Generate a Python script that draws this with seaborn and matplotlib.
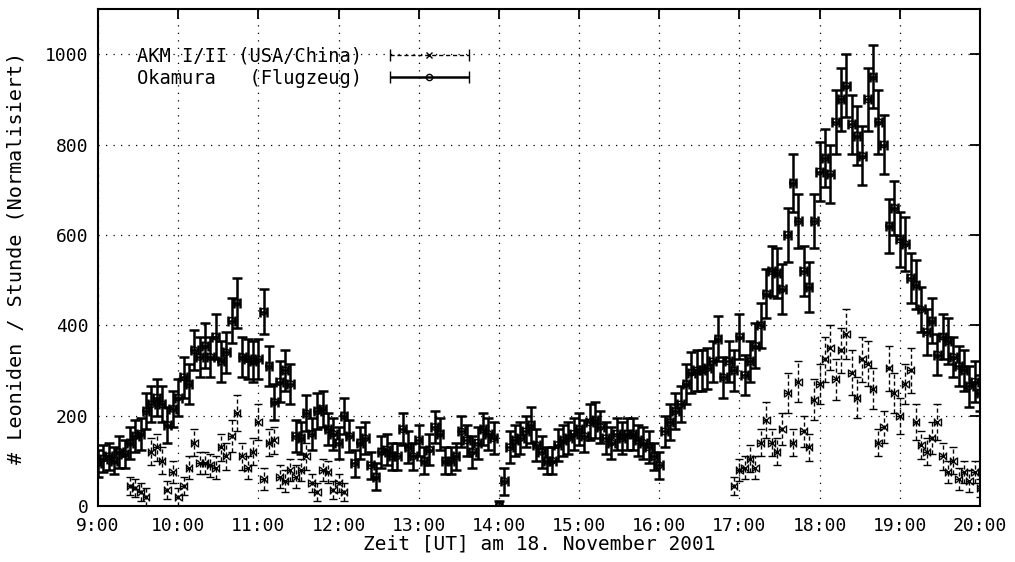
import numpy as np
import pandas as pd
import matplotlib
matplotlib.use("Agg")
import matplotlib.pyplot as plt
import seaborn as sns
from matplotlib.legend_handler import HandlerErrorbar
from matplotlib.container import ErrorbarContainer

# ---------------- data ----------------
# minutes after 09:00 UT, regular 4-minute sampling
okamura_start_min = 0
okamura_step_min = 4
okamura_rate = [
    95, 105, 110, 100, 120, 115, 140, 155, 160, 210, 225, 240, 225, 180, 215,   # 9h
    240, 285, 270, 345, 330, 355, 330, 375, 320, 340, 410, 450, 330, 325, 320,  # 10h
    325, 430, 310, 230, 275, 300, 270, 155, 150, 205, 160, 210, 215, 170, 160,  # 11h
    140, 200, 155, 95, 140, 150, 90, 65, 120, 125, 110, 110, 170, 130, 110,     # 12h
    145, 100, 125, 175, 160, 100, 100, 110, 165, 145, 120, 140, 170, 160, 150,  # 13h
    0, 55, 130, 145, 150, 165, 180, 135, 120, 100, 100, 135, 145, 150, 160,     # 14h
    170, 155, 185, 190, 175, 150, 140, 160, 150, 160, 160, 145, 140, 130, 110,  # 15h
    90, 165, 185, 210, 225, 270, 295, 300, 300, 305, 320, 370, 285, 320, 300,   # 16h
    375, 290, 320, 355, 400, 470, 520, 515, 480, 600, 715, 630, 520, 485, 630,  # 17h
    740, 770, 735, 850, 900, 930, 845, 820, 775, 900, 950, 850, 800, 620, 660,  # 18h
    590, 580, 505, 490, 435, 385, 410, 335, 375, 365, 330, 310, 300, 265, 275,  # 19h
    250,                                                                         # 20h
]
okamura_err = [
    30, 30, 30, 30, 35, 30, 35, 35, 35, 40, 40, 40, 40, 40, 40,
    40, 45, 45, 45, 45, 50, 45, 50, 45, 45, 50, 55, 45, 45, 45,
    45, 50, 45, 40, 45, 45, 45, 35, 35, 40, 35, 40, 40, 35, 35,
    35, 40, 35, 30, 35, 35, 30, 30, 35, 35, 30, 30, 35, 35, 30,
    35, 30, 35, 35, 35, 30, 30, 30, 35, 35, 35, 35, 35, 35, 35,
    10, 30, 35, 35, 35, 35, 40, 35, 35, 30, 30, 35, 35, 35, 35,
    35, 35, 40, 40, 35, 35, 35, 35, 35, 35, 35, 35, 35, 35, 30,
    30, 35, 40, 40, 40, 45, 45, 45, 45, 45, 45, 50, 45, 45, 45,
    50, 45, 45, 50, 50, 55, 55, 55, 55, 60, 65, 60, 55, 55, 60,
    65, 65, 65, 70, 70, 70, 65, 65, 65, 70, 70, 70, 65, 60, 60,
    60, 60, 55, 55, 50, 50, 50, 45, 50, 50, 45, 45, 45, 45, 45,
    40,
]

akm_step_min = 4
akm1_start_min = 24      # 09:24
akm1_rate = [45, 40, 30, 20, 120, 130, 100, 35, 75, 20,
             45, 85, 140, 95, 95, 90, 85, 130, 110, 155,
             205, 110, 85, 120, 185, 60, 140, 145, 65, 55,
             80, 65, 80, 110, 50, 30, 80, 75, 35, 50, 30]
akm1_err = [20, 20, 20, 20, 30, 30, 30, 20, 25, 20,
            20, 25, 30, 25, 25, 25, 25, 30, 30, 35,
            40, 30, 25, 30, 40, 25, 30, 30, 25, 25,
            25, 25, 25, 30, 20, 20, 25, 25, 20, 20, 20]
akm2_start_min = 476     # 16:56
akm2_rate = [45, 80, 85, 105, 85, 140, 190, 140, 120, 170,
             250, 140, 275, 165, 130, 235, 270, 325, 350, 280,
             345, 380, 295, 240, 325, 315, 260, 140, 175, 305,
             250, 200, 270, 300, 185, 135, 120, 150, 185, 110,
             75, 100, 60, 75, 55, 75, 40]
akm2_err = [20, 25, 25, 30, 25, 30, 40, 30, 30, 35,
            45, 30, 45, 35, 30, 45, 45, 50, 50, 45,
            50, 55, 50, 45, 50, 50, 45, 30, 35, 50,
            45, 40, 45, 50, 40, 30, 30, 35, 40, 30,
            25, 30, 25, 25, 25, 25, 20]

x_ticks = list(range(9, 21))
x_tick_labels = [f"{h}:00" for h in x_ticks]
y_ticks = [0, 200, 400, 600, 800, 1000]
half_width_min = 2.5

labels = ["AKM I/II (USA/China)", "Okamura   (Flugzeug)"]

# ---------------- frames ----------------
def frame(start, step, rate, err):
    minutes = start + step * np.arange(len(rate))
    return pd.DataFrame({"t": 9 + minutes / 60.0, "rate": rate, "err": err})

df_oka = frame(okamura_start_min, okamura_step_min, okamura_rate, okamura_err)
df_akm = pd.concat([frame(akm1_start_min, akm_step_min, akm1_rate, akm1_err),
                    frame(akm2_start_min, akm_step_min, akm2_rate, akm2_err)],
                   ignore_index=True)

# ---------------- plot ----------------
sns.set_style("white")
plt.rcParams["font.family"] = ["DejaVu Sans Mono", "DejaVu Sans"]
plt.rcParams["text.color"] = "black"
plt.rcParams["axes.labelcolor"] = "black"
FS = 13

fig = plt.figure(figsize=(10.15, 5.62), dpi=100)
ax = fig.add_axes([98 / 1015, 1 - 506 / 562, 882 / 1015, 497 / 562])

xe = half_width_min / 60.0
dash = (0, (3, 2))

akm = ax.errorbar(df_akm["t"], df_akm["rate"], xerr=xe, yerr=df_akm["err"],
                  fmt="none", ecolor="black", elinewidth=1.0,
                  capsize=3, capthick=1.0, zorder=2)
for c in akm[2]:
    c.set_linestyle(dash)
sns.scatterplot(data=df_akm, x="t", y="rate", marker="x", s=22,
                color="black", linewidth=1.0, ax=ax, zorder=3, legend=False)

ax.errorbar(df_oka["t"], df_oka["rate"], xerr=xe, yerr=df_oka["err"],
            fmt="none", ecolor="black", elinewidth=1.8,
            capsize=3.5, capthick=1.8, zorder=2)
sns.scatterplot(data=df_oka, x="t", y="rate", marker="o", s=22,
                color="none", edgecolor="black", linewidth=1.0,
                ax=ax, zorder=3, legend=False)

# legend proxies (no data drawn)
h_akm = ax.errorbar([np.nan], [np.nan], xerr=1.0, fmt="x", color="black",
                    ms=5, mew=1.0, elinewidth=1.0, capsize=4, capthick=1.0,
                    label=labels[0])
for c in h_akm[2]:
    c.set_linestyle(dash)
h_oka = ax.errorbar([np.nan], [np.nan], xerr=1.0, fmt="o", color="black",
                    mfc="none", ms=4.5, mew=1.0, elinewidth=1.8, capsize=4,
                    capthick=1.8, label=labels[1])

leg = ax.legend(handles=[h_akm, h_oka], loc="upper left",
                bbox_to_anchor=(0.044, 0.925), frameon=False,
                markerfirst=False, handlelength=4.4, handletextpad=1.4,
                labelspacing=0.2, borderpad=0, borderaxespad=0, numpoints=1,
                handler_map={ErrorbarContainer: HandlerErrorbar(xerr_size=2.1)},
                prop={"family": "DejaVu Sans Mono", "size": 13.5})
for t in leg.get_texts():
    t.set_color("black")

ax.set_xlim(9, 20)
ax.set_ylim(0, 1100)
ax.set_xticks(x_ticks)
ax.set_xticklabels(x_tick_labels)
ax.set_yticks(y_ticks)
ax.set_yticklabels([str(v) for v in y_ticks])
ax.tick_params(direction="in", length=7, width=1.3, top=True, right=True,
               labelsize=FS, colors="black")
ax.tick_params(axis="y", pad=7)
ax.tick_params(axis="x", pad=8)
ax.grid(True, color="black", linestyle=(0, (1, 5)), linewidth=0.9)
for s in ax.spines.values():
    s.set_color("black")
    s.set_linewidth(1.5)

ax.set_xlabel("Zeit [UT] am 18. November 2001", fontsize=14, color="black")
ax.set_ylabel("# Leoniden / Stunde (Normalisiert)", fontsize=14.5,
              color="black")
ax.xaxis.set_label_coords(0.5, -0.058)
ax.xaxis.label.set_va("top")
ax.yaxis.set_label_coords(-0.082, 0.5)

fig.savefig("out.png", dpi=100, facecolor="white")
